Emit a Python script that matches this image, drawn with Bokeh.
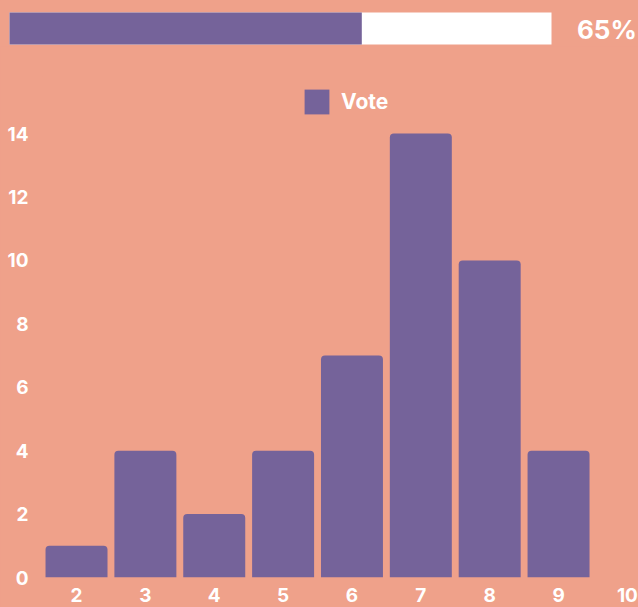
from bokeh.plotting import figure
from bokeh.models import Range1d, FixedTicker
from bokeh.layouts import column, row
from bokeh.core.properties import value
from bokeh.embed import file_html
from bokeh.resources import INLINE

# ---- data ----
progress_value = 65
progress_label = "65%"
categories = [2, 3, 4, 5, 6, 7, 8, 9]
votes = [1, 4, 2, 4, 7, 14, 10, 4]
x_ticks = [2, 3, 4, 5, 6, 7, 8, 9, 10]
y_ticks = [0, 2, 4, 6, 8, 10, 12, 14]
series_name = "Vote"

BG = "#EFA18A"
PURPLE = "#75639A"
FONT = "Inter"

# ---- progress bar ----
top = figure(width=638, height=46, x_range=Range1d(-1.66, 116.05), y_range=Range1d(46, 0),
             x_axis_type=None, y_axis_type=None, toolbar_location=None,
             output_backend="svg", min_border=0,
             min_border_left=0, min_border_right=0, min_border_top=0, min_border_bottom=0)
top.grid.visible = False
top.outline_line_color = None
top.background_fill_color = BG
top.border_fill_color = BG
top.styles = {"background-color": BG}
top.quad(left=[0], right=[100], top=[12], bottom=[44], fill_color="white", line_color=None)
top.quad(left=[0], right=[progress_value], top=[12], bottom=[44], fill_color=PURPLE, line_color=None)
top.text(x=[115.75], y=[29], text=[progress_label], text_align="right", text_baseline="middle",
         text_font_size="26px", text_font_style="bold", text_color="white", text_font=value(FONT))

# ---- bar chart ----
p = figure(width=638, height=561, x_range=Range1d(1.506, 10.161), y_range=Range1d(0, 15.8),
           toolbar_location=None, output_backend="svg",
           min_border_left=42, min_border_right=0, min_border_top=30, min_border_bottom=30)
p.background_fill_color = BG
p.border_fill_color = BG
p.styles = {"background-color": BG}
p.outline_line_color = None
p.grid.visible = False

p.vbar(x=categories, top=votes, width=0.9, fill_color=PURPLE, line_color=None,
       border_radius=(4, 4, 0, 0), legend_label=series_name)

for ax in (p.xaxis, p.yaxis):
    ax.axis_line_color = None
    ax.major_tick_line_color = None
    ax.minor_tick_line_color = None
    ax.major_label_text_color = "white"
    ax.major_label_text_font_style = "bold"
    ax.major_label_text_font_size = "19px"
    ax.major_label_text_font = FONT
p.xaxis.ticker = FixedTicker(ticks=x_ticks)
p.yaxis.ticker = FixedTicker(ticks=y_ticks)
p.xaxis.major_label_standoff = 4
p.yaxis.major_label_standoff = 8

lg = p.legend[0]
lg.location = (259, 460)
lg.padding = 0
lg.margin = 0
lg.background_fill_alpha = 0
lg.border_line_color = None
lg.glyph_width = 31
lg.glyph_height = 31
lg.label_standoff = 9
lg.label_text_color = "white"
lg.label_text_font_style = "bold"
lg.label_text_font_size = "21px"
lg.label_text_font = FONT

layout = column(row(top), row(p), spacing=0, styles={"background-color": BG})
open("out.html", "w").write(file_html(layout, INLINE))
